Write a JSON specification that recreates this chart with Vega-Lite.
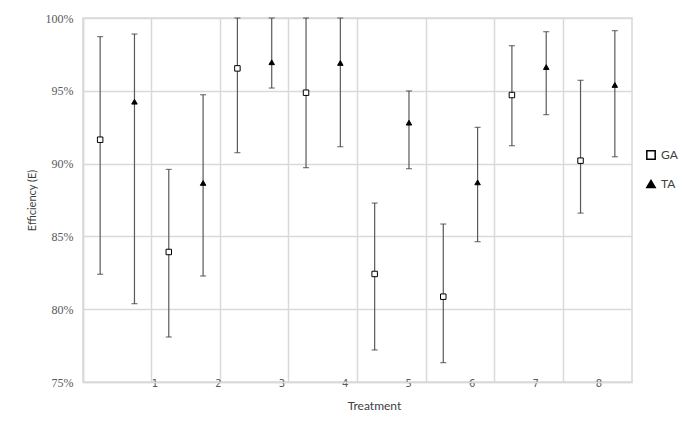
{
  "$schema": "https://vega.github.io/schema/vega-lite/v6.json",
  "width": 549,
  "height": 364,
  "autosize": "none",
  "padding": {"left": 83, "top": 18, "right": 67, "bottom": 43},
  "background": "white",
  "config": {
    "view": {"stroke": "#d9d9d9", "strokeWidth": 1.5},
    "axis": {
      "gridColor": "#d9d9d9",
      "gridWidth": 1.5,
      "domainColor": "#d9d9d9",
      "domainWidth": 1.5,
      "ticks": false,
      "labelColor": "#595959",
      "titleColor": "#404040",
      "titleFontWeight": "normal"
    },
    "legend": {
      "orient": "none",
      "legendX": 562,
      "legendY": 131,
      "rowPadding": 14,
      "labelFont": "Lato",
      "labelFontSize": 12,
      "labelColor": "#404040",
      "symbolSize": 70
    }
  },
  "data": {
    "values": [
      {"Treatment": "1", "Group": "GA", "E": 0.9164, "Lo": 0.824, "Hi": 0.9872},
      {"Treatment": "1", "Group": "TA", "E": 0.9425, "Lo": 0.8038, "Hi": 0.989},
      {"Treatment": "2", "Group": "GA", "E": 0.8393, "Lo": 0.7809, "Hi": 0.896},
      {"Treatment": "2", "Group": "TA", "E": 0.8867, "Lo": 0.8228, "Hi": 0.9473},
      {"Treatment": "3", "Group": "GA", "E": 0.9654, "Lo": 0.9075, "Hi": 1.0},
      {"Treatment": "3", "Group": "TA", "E": 0.9696, "Lo": 0.9519, "Hi": 1.0},
      {"Treatment": "4", "Group": "GA", "E": 0.9487, "Lo": 0.8972, "Hi": 1.0},
      {"Treatment": "4", "Group": "TA", "E": 0.9691, "Lo": 0.9116, "Hi": 1.0},
      {"Treatment": "5", "Group": "GA", "E": 0.8242, "Lo": 0.772, "Hi": 0.8729},
      {"Treatment": "5", "Group": "TA", "E": 0.9281, "Lo": 0.8965, "Hi": 0.9499},
      {"Treatment": "6", "Group": "GA", "E": 0.8086, "Lo": 0.7633, "Hi": 0.8585},
      {"Treatment": "6", "Group": "TA", "E": 0.8871, "Lo": 0.8464, "Hi": 0.9249},
      {"Treatment": "7", "Group": "GA", "E": 0.9471, "Lo": 0.9123, "Hi": 0.981},
      {"Treatment": "7", "Group": "TA", "E": 0.9663, "Lo": 0.9336, "Hi": 0.9906},
      {"Treatment": "8", "Group": "GA", "E": 0.902, "Lo": 0.866, "Hi": 0.9572},
      {"Treatment": "8", "Group": "TA", "E": 0.954, "Lo": 0.9047, "Hi": 0.9913}
    ]
  },
  "encoding": {
    "x": {
      "field": "Treatment",
      "type": "nominal",
      "title": "Treatment",
      "scale": {"paddingInner": 0, "paddingOuter": 0},
      "axis": {
        "labelAngle": 0,
        "bandPosition": 0,
        "grid": true,
        "labelFont": "DejaVu Sans",
        "labelFontSize": 10,
        "labelBaseline": "middle",
        "labelPadding": 1,
        "labelOffset": {"expr": "37.7 - 5.2 * (toNumber(datum.value) - 1)"},
        "titleFont": "Lato",
        "titleFontSize": 12,
        "titlePadding": 12,
        "titleX": 291
      }
    },
    "xOffset": {
      "field": "Group",
      "type": "nominal",
      "scale": {"domain": ["GA", "TA"], "paddingInner": 0, "paddingOuter": 0}
    }
  },
  "layer": [
    {
      "mark": {"type": "rule", "color": "#595959", "strokeWidth": 1.2},
      "encoding": {
        "y": {
          "field": "Lo",
          "type": "quantitative",
          "title": "Efficiency (E)",
          "scale": {"domain": [0.75, 1], "nice": false, "zero": false},
          "axis": {
            "values": [0.75, 0.8, 0.85, 0.9, 0.95, 1],
            "format": ".0%",
            "grid": true,
            "labelFont": "Liberation Serif",
            "labelFontSize": 12,
            "labelPadding": 10,
            "titleFont": "Lato",
            "titleFontSize": 11,
            "titlePadding": 8
          }
        },
        "y2": {"field": "Hi"}
      }
    },
    {
      "mark": {"type": "tick", "color": "#404040", "size": 6, "thickness": 1.2},
      "encoding": {"y": {"field": "Lo", "type": "quantitative"}}
    },
    {
      "mark": {"type": "tick", "color": "#404040", "size": 6, "thickness": 1.2},
      "encoding": {"y": {"field": "Hi", "type": "quantitative"}}
    },
    {
      "mark": {"type": "point", "filled": true, "stroke": "black", "strokeWidth": 1, "opacity": 1, "size": 30},
      "encoding": {
        "y": {"field": "E", "type": "quantitative"},
        "shape": {
          "field": "Group",
          "type": "nominal",
          "title": null,
          "scale": {"domain": ["GA", "TA"], "range": ["square", "triangle-up"]},
          "legend": {
            "encode": {
              "symbols": {"update": {"stroke": {"value": "black"}, "strokeWidth": {"value": 1}}}
            }
          }
        },
        "fill": {
          "field": "Group",
          "type": "nominal",
          "title": null,
          "scale": {"domain": ["GA", "TA"], "range": ["white", "black"]}
        }
      }
    }
  ]
}
